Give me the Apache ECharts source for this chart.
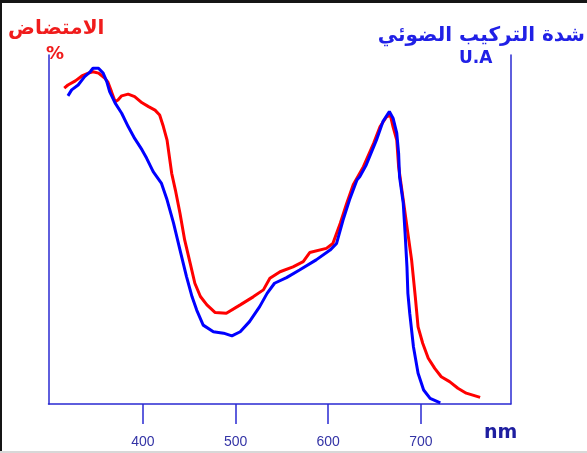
<!DOCTYPE html>
<html>
<head>
<meta charset="utf-8">
<script src="https://cdn.jsdelivr.net/npm/echarts@6/dist/echarts.min.js"></script>
<style>
  html, body { margin: 0; padding: 0; background: #fff; }
  #chart { width: 587px; height: 453px; position: absolute; left: 0; top: 0; }
  .bt { position: absolute; left: 0; top: 0; width: 587px; height: 3px; background: #151515; }
  .bl { position: absolute; left: 0; top: 0; width: 2px; height: 453px; background: #151515; }
  .bb { position: absolute; left: 0; top: 451px; width: 587px; height: 2px; background: #d8d8d8; }
</style>
</head>
<body>
<div id="chart"></div>
<div class="bt"></div><div class="bl"></div><div class="bb"></div>
<script>
// Wavelength (nm) and absorption (%) — red curve
const absNm = [315, 319, 327, 334, 341, 346, 352, 359, 362, 366, 370, 373, 377, 384, 391, 399, 406, 413, 418, 422, 426, 431, 435, 440, 445, 451, 456, 462, 469, 478, 490, 505, 519, 530, 537, 548, 562, 573, 580, 598, 605, 613, 620, 627, 638, 649, 656, 663, 667, 670, 674, 676, 681, 686, 690, 694, 697, 702, 708, 715, 722, 731, 740, 749, 764];
const absVal = [90.5, 91.4, 92.6, 94.0, 94.8, 95.2, 94.8, 93.3, 92.3, 89.5, 86.6, 87.1, 88.3, 88.8, 88.1, 86.3, 85.2, 84.2, 82.8, 79.5, 75.6, 66.1, 61.3, 54.6, 47.0, 40.3, 34.6, 30.8, 28.4, 26.2, 26.0, 28.4, 30.7, 32.7, 36.0, 37.9, 39.3, 40.8, 43.4, 44.6, 46.0, 51.8, 57.5, 62.8, 68.0, 74.7, 79.5, 82.3, 82.8, 79.4, 75.6, 68.0, 58.5, 48.9, 41.3, 30.7, 22.1, 17.4, 13.1, 10.2, 7.8, 6.4, 4.5, 3.1, 1.9];

// Wavelength (nm) and photosynthesis intensity (U.A) — blue curve
const photoNm = [319, 323, 330, 337, 343, 346, 352, 357, 361, 364, 370, 377, 384, 391, 399, 404, 411, 420, 426, 433, 440, 447, 453, 458, 465, 476, 487, 496, 505, 515, 526, 534, 542, 555, 569, 587, 602, 609, 616, 623, 631, 634, 641, 652, 659, 666, 670, 674, 676, 677, 681, 683, 685, 686, 688, 692, 697, 703, 710, 721];
const photoVal = [88.3, 90.0, 91.4, 93.8, 95.2, 96.2, 96.2, 94.8, 92.3, 89.5, 86.2, 83.3, 79.5, 76.1, 72.8, 70.4, 66.6, 63.2, 58.5, 51.8, 44.1, 36.5, 30.7, 26.9, 22.6, 20.7, 20.3, 19.5, 20.7, 23.6, 27.9, 31.7, 34.6, 36.2, 38.4, 41.3, 44.1, 46.0, 52.7, 58.5, 64.2, 65.1, 68.5, 75.6, 80.9, 83.8, 81.9, 77.6, 71.8, 65.1, 57.5, 48.9, 39.3, 31.7, 26.0, 16.4, 8.8, 4.0, 1.6, 0.3];

const xTicks = [400, 500, 600, 700];

const titleAbs = 'الامتضاض';
const unitAbs = '%';
const titlePhoto = 'شدة التركيب الضوئي';
const unitPhoto = 'U.A';
const xUnit = 'nm';

const axisBlue = '#2a2ad2';
const chart = echarts.init(document.getElementById('chart'), null, { renderer: 'canvas' });

chart.setOption({
  backgroundColor: '#ffffff',
  animation: false,
  grid: { left: 48.5, right: 76.3, top: 55, bottom: 49 },
  xAxis: {
    type: 'value', min: 298, max: 797,
    axisLine: { show: true, lineStyle: { color: axisBlue, width: 1.5 } },
    axisTick: { show: true, customValues: xTicks, length: 20, inside: false, lineStyle: { color: axisBlue, width: 1.5 } },
    axisLabel: { customValues: xTicks, margin: 31, color: '#3434a6', fontSize: 14, fontFamily: 'Liberation Sans' },
    splitLine: { show: false }
  },
  yAxis: [
    { type: 'value', min: 0, max: 100, position: 'left',
      axisLine: { show: true, onZero: false, lineStyle: { color: axisBlue, width: 1.5 } },
      axisTick: { show: false }, axisLabel: { show: false }, splitLine: { show: false } },
    { type: 'value', min: 0, max: 100, position: 'right',
      axisLine: { show: true, onZero: false, lineStyle: { color: axisBlue, width: 1.5 } },
      axisTick: { show: false }, axisLabel: { show: false }, splitLine: { show: false } }
  ],
  graphic: [
    { type: 'text', left: 8, top: 19, style: { text: titleAbs, fill: '#f01c1c', font: 'bold 20px "DejaVu Sans"' } },
    { type: 'text', left: 46, top: 45, style: { text: unitAbs, fill: '#f01c1c', font: 'bold 18px "DejaVu Sans"' } },
    { type: 'text', right: 2, top: 26, style: { text: titlePhoto, fill: '#2020e6', font: 'bold 20px "DejaVu Sans"' } },
    { type: 'text', left: 459, top: 50, style: { text: unitPhoto, fill: '#2020e6', font: 'bold 17px "DejaVu Sans"' } },
    { type: 'text', left: 484, top: 424, style: { text: xUnit, fill: '#1e1ea0', font: 'bold 19px "DejaVu Sans"' } }
  ],
  series: [
    { name: titleAbs, type: 'line', yAxisIndex: 0, symbol: 'none', smooth: false,
      lineStyle: { color: '#ff0000', width: 3 }, clip: false,
      data: absNm.map((x, i) => [x, absVal[i]]) },
    { name: titlePhoto, type: 'line', yAxisIndex: 0, symbol: 'none', smooth: false,
      lineStyle: { color: '#0000ff', width: 3 }, clip: false,
      data: photoNm.map((x, i) => [x, photoVal[i]]) }
  ]
});
</script>
</body>
</html>
